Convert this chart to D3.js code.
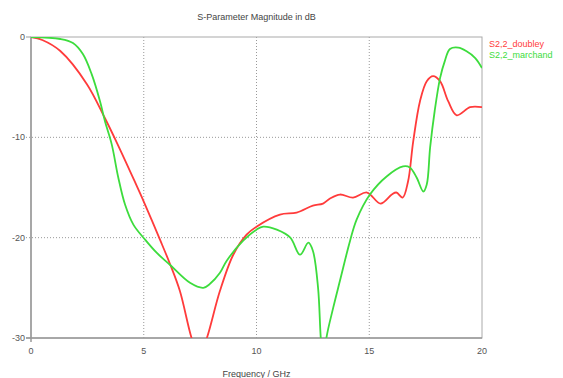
<!DOCTYPE html>
<html>
<head>
<meta charset="utf-8">
<script src="https://cdn.jsdelivr.net/npm/d3@7"></script>
<style>
  body { margin: 0; background: #fff; }
  text { font-family: "Liberation Sans", Arial, sans-serif; }
</style>
</head>
<body>
<div id="chart"></div>
<script>
// S-parameter chart, two traces

const title = "S-Parameter Magnitude in dB";
const xLabel = "Frequency / GHz";
const xTicks = [0, 5, 10, 15, 20];
const yTicks = [0, -10, -20, -30];
const seriesNames = ["S2,2_doubley", "S2,2_marchand"];
const seriesColors = ["#ff3b3b", "#3ddc3d"];

// doubley trace (GHz, dB)
const doubleyF = [0, 0.5, 1.3, 2.48, 3.28, 3.8, 4.6, 5.0, 5.72, 6.16, 6.6, 7.12, 7.45, 7.8,
  8.38, 8.97, 9.56, 10.0, 11.04, 11.78, 12.5, 12.95, 13.26, 13.7, 14.28, 14.9, 15.5, 16.0,
  16.2, 16.48, 16.72, 16.95, 17.25, 17.55, 17.83, 18.14, 18.5, 18.88, 19.47, 20];
const doubleyDb = [0, -0.3, -1.4, -4.7, -8.1, -10.5, -14.4, -16.4, -20.2, -22.6, -25.3, -30, -32, -30,
  -25.3, -21.7, -19.7, -18.9, -17.7, -17.5, -16.8, -16.6, -16.1, -15.7, -16.0, -15.5, -16.6, -15.7,
  -15.5, -16.0, -14.4, -10.4, -6.4, -4.4, -3.9, -4.4, -6.4, -7.8, -7.0, -7.0];

// marchand trace (GHz, dB)
const marchandF = [0, 1.3, 1.86, 2.3, 2.69, 3.06, 3.28, 3.58, 3.87, 4.17, 4.54, 5.06, 5.57, 6.16, 7.05,
  7.64, 7.94, 8.38, 8.68, 9.41, 10.0, 10.3, 10.9, 11.5, 11.93, 12.3, 12.5, 12.73, 12.85, 12.97,
  13.1, 13.4, 13.7, 14.15, 14.44, 15.03, 15.77, 16.5, 16.8, 17.1, 17.4, 17.55, 17.7, 17.9, 18.14,
  18.35, 18.58, 18.95, 19.3, 19.7, 20];
const marchandDb = [0, -0.2, -0.6, -1.7, -3.7, -6.4, -8.4, -10.7, -14, -16.7, -18.7, -20.2, -21.5, -22.7, -24.5,
  -25, -24.6, -23.5, -22.3, -20.3, -19.2, -18.9, -19.2, -20, -21.7, -20.5, -21.3, -25, -30, -33,
  -30, -27, -24.3, -20.3, -18.2, -15.7, -13.9, -12.9, -13.0, -14, -15.4, -14.7, -11, -7.4, -4.1,
  -2.4, -1.2, -1.06, -1.4, -2.1, -3.1];

const series = [
  d3.zip(doubleyF, doubleyDb),
  d3.zip(marchandF, marchandDb)
];

const width = 563, height = 378;
const margin = {top: 37, right: 81, bottom: 40, left: 31};

const x = d3.scaleLinear().domain([0, 20]).range([margin.left, width - margin.right]);
const y = d3.scaleLinear().domain([0, -30]).range([margin.top, height - margin.bottom]);

const svg = d3.select("#chart").append("svg")
    .attr("width", width)
    .attr("height", height);

svg.append("defs").append("clipPath")
    .attr("id", "plot")
  .append("rect")
    .attr("x", margin.left)
    .attr("y", margin.top)
    .attr("width", x(20) - x(0))
    .attr("height", y(-30) - y(0));

// grid
svg.append("g")
    .selectAll("line")
    .data(xTicks.slice(1, -1))
    .join("line")
    .attr("x1", d => x(d)).attr("x2", d => x(d))
    .attr("y1", y(0)).attr("y2", y(-30))
    .attr("stroke", "#999")
    .attr("stroke-dasharray", "1,2");

svg.append("g")
    .selectAll("line")
    .data(yTicks.slice(1, -1))
    .join("line")
    .attr("x1", x(0) - 5).attr("x2", x(20))
    .attr("y1", d => y(d)).attr("y2", d => y(d))
    .attr("stroke", "#999")
    .attr("stroke-dasharray", "1,2");

// frame
svg.append("rect")
    .attr("x", x(0))
    .attr("y", y(0))
    .attr("width", x(20) - x(0))
    .attr("height", y(-30) - y(0))
    .attr("fill", "none")
    .attr("stroke", "#aaa");

svg.append("line")
    .attr("x1", x(0)).attr("x2", x(0))
    .attr("y1", y(0)).attr("y2", y(-30) + 4)
    .attr("stroke", "#999").attr("stroke-width", 1.5);
svg.append("line")
    .attr("x1", x(0) - 5).attr("x2", x(20))
    .attr("y1", y(-30)).attr("y2", y(-30))
    .attr("stroke", "#999").attr("stroke-width", 1.5);
svg.append("g")
    .selectAll("line")
    .data([0, -30])
    .join("line")
    .attr("x1", x(0) - 5).attr("x2", x(0))
    .attr("y1", d => y(d)).attr("y2", d => y(d))
    .attr("stroke", "#999");

// traces
const line = d3.line()
    .x(d => x(d[0]))
    .y(d => y(d[1]))
    .curve(d3.curveCatmullRom.alpha(0.5));

svg.append("g")
    .attr("clip-path", "url(#plot)")
    .selectAll("path")
    .data(series)
    .join("path")
    .attr("d", line)
    .attr("fill", "none")
    .attr("stroke", (d, i) => seriesColors[i])
    .attr("stroke-width", 1.8);

// tick labels
svg.append("g")
    .selectAll("text")
    .data(xTicks)
    .join("text")
    .attr("x", d => x(d))
    .attr("y", y(-30) + 16)
    .attr("text-anchor", "middle")
    .attr("font-size", 9)
    .attr("fill", "#555")
    .text(d => d);

svg.append("g")
    .selectAll("text")
    .data(yTicks)
    .join("text")
    .attr("x", x(0) - 6)
    .attr("y", d => y(d) + 3)
    .attr("text-anchor", "end")
    .attr("font-size", 9)
    .attr("fill", "#555")
    .text(d => d);

svg.append("text")
    .attr("x", (x(0) + x(20)) / 2)
    .attr("y", 20)
    .attr("text-anchor", "middle")
    .attr("font-size", 9)
    .attr("fill", "#444")
    .text(title);

svg.append("text")
    .attr("x", (x(0) + x(20)) / 2)
    .attr("y", 377)
    .attr("text-anchor", "middle")
    .attr("font-size", 9)
    .attr("fill", "#444")
    .text(xLabel);

// legend
svg.append("g")
    .selectAll("text")
    .data(seriesNames)
    .join("text")
    .attr("x", x(20) + 7)
    .attr("y", (d, i) => 47 + i * 11)
    .attr("font-size", 9)
    .attr("fill", (d, i) => seriesColors[i])
    .text(d => d);
</script>
</body>
</html>
